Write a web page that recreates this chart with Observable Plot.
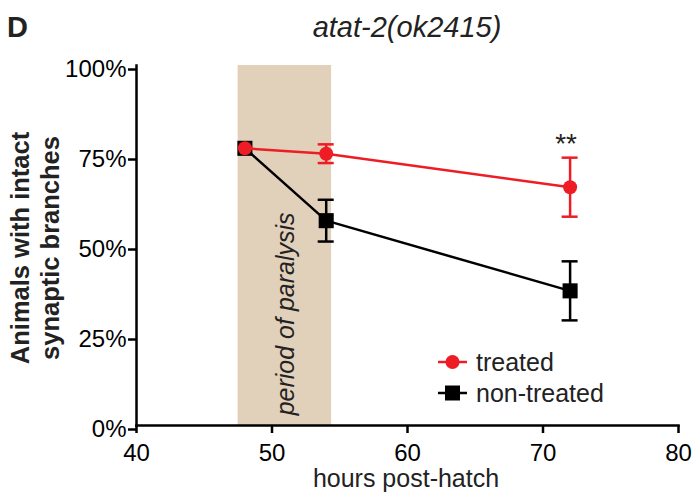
<!DOCTYPE html>
<html>
<head>
<meta charset="utf-8">
<script src="https://cdn.jsdelivr.net/npm/d3@7"></script>
<script src="https://cdn.jsdelivr.net/npm/@observablehq/plot@0.6"></script>
<style>
  html, body { margin: 0; padding: 0; background: #fff; }
  #wrap { position: relative; width: 694px; height: 499px; font-family: "Liberation Sans", Arial, Helvetica, sans-serif; }
  #overlay { position: absolute; left: 0; top: 0; pointer-events: none; }
</style>
</head>
<body>
<div id="wrap"></div>
<script>
// ---- data ----
const hours = [48, 54, 72];
const treatedMean = [0.77, 0.755, 0.662];
const treatedErr = [0, 0.026, 0.082];
const nonTreatedMean = [0.77, 0.569, 0.374];
const nonTreatedErr = [0, 0.058, 0.082];
const seriesNames = ["non-treated", "treated"];
const paralysisPeriod = [47.5, 54.4];
const xTicks = [40, 50, 60, 70, 80];
const yTicks = [0, 0.25, 0.5, 0.75, 1];
const significance = [{hour: 72, label: "**"}];

const RED = "#ee1d25";
const BLACK = "#000000";
const BAND = "#e1d0ba";
const FONT = "'Liberation Sans', Arial, Helvetica, sans-serif";

const rows = [];
hours.forEach((h, i) => {
  rows.push({series: "non-treated", hour: h, mean: nonTreatedMean[i], err: nonTreatedErr[i]});
  rows.push({series: "treated", hour: h, mean: treatedMean[i], err: treatedErr[i]});
});
const nt = rows.filter(d => d.series === "non-treated");
const tr = rows.filter(d => d.series === "treated");
const sig = significance.map(s => {
  const i = hours.indexOf(s.hour);
  return {...s, y: treatedMean[i] + treatedErr[i]};
});

const errMarks = (data, color) => [
  Plot.ruleX(data.filter(d => d.err > 0), {x: "hour", y1: d => d.mean - d.err, y2: d => d.mean + d.err, stroke: color, strokeWidth: 2.5}),
  Plot.ruleY(data.filter(d => d.err > 0), {x1: "hour", x2: "hour", y: d => d.mean - d.err, stroke: color, strokeWidth: 2.5, insetLeft: -8, insetRight: -8}),
  Plot.ruleY(data.filter(d => d.err > 0), {x1: "hour", x2: "hour", y: d => d.mean + d.err, stroke: color, strokeWidth: 2.5, insetLeft: -8, insetRight: -8})
];

const chart = Plot.plot({
  width: 694,
  height: 499,
  marginLeft: 136,
  marginRight: 16,
  marginTop: 65,
  marginBottom: 74,
  style: {fontFamily: FONT, color: "#000", background: "#fff"},
  x: {domain: [xTicks[0], xTicks[xTicks.length - 1]]},
  y: {domain: [yTicks[0], yTicks[yTicks.length - 1]]},
  marks: [
    Plot.rect([{start: paralysisPeriod[0], end: paralysisPeriod[1]}], {x1: "start", x2: "end", fill: BAND}),
    Plot.text([{mid: (paralysisPeriod[0] + paralysisPeriod[1]) / 2}], {
      x: "mid", y: () => 0.31, text: () => "period of paralysis", rotate: -90,
      fontSize: 25, fontStyle: "italic", fill: "#222", dx: 1
    }),
    Plot.axisX({ticks: xTicks, tickSize: 8, tickPadding: 10, fontSize: 24, strokeWidth: 2.5, label: null}),
    Plot.axisY({ticks: yTicks, tickSize: 8, tickPadding: 2, fontSize: 24, strokeWidth: 2.5, tickFormat: d3.format(".0%"), dy: 4, label: null}),
    Plot.frame({anchor: "left", strokeWidth: 2.5}),
    Plot.frame({anchor: "bottom", strokeWidth: 2.5}),
    ...errMarks(nt, BLACK),
    Plot.line(nt, {x: "hour", y: "mean", stroke: BLACK, strokeWidth: 2.5}),
    Plot.dot(nt, {x: "hour", y: "mean", symbol: "square", r: 8.5, fill: BLACK}),
    ...errMarks(tr, RED),
    Plot.line(tr, {x: "hour", y: "mean", stroke: RED, strokeWidth: 2.5}),
    Plot.dot(tr, {x: "hour", y: "mean", r: 7, fill: RED}),
    Plot.text(sig, {x: "hour", y: "y", text: "label", fontSize: 28, dx: -4, dy: -14, fill: "#222"})
  ]
});
const wrap = document.getElementById("wrap");
wrap.appendChild(chart);

// overlay: panel letter, title, axis titles, legend
const ns = "http://www.w3.org/2000/svg";
const ov = d3.select(wrap).append("svg").attr("id", "overlay").attr("width", 694).attr("height", 499)
  .attr("xmlns", ns).style("font-family", FONT);
ov.append("text").attr("x", 7).attr("y", 37).attr("font-size", 29).attr("font-weight", "bold").attr("fill", "#222").text("D");
ov.append("text").attr("x", 407).attr("y", 37).attr("text-anchor", "middle").attr("font-size", 29).attr("font-style", "italic").attr("fill", "#222").text("atat-2(ok2415)");
ov.append("text").attr("x", 406).attr("y", 487).attr("text-anchor", "middle").attr("font-size", 25).attr("fill", "#222").text("hours post-hatch");
const ylab = ["Animals with intact", "synaptic branches"];
ylab.forEach((t, i) => {
  ov.append("text").attr("transform", `translate(${29 + i * 30},248) rotate(-90)`).attr("text-anchor", "middle")
    .attr("font-size", 25.5).attr("font-weight", "bold").attr("fill", "#222").text(t);
});
// legend
const legendItems = [
  {name: seriesNames[1], color: RED, shape: "circle"},
  {name: seriesNames[0], color: BLACK, shape: "square"}
];
legendItems.forEach((it, i) => {
  const cy = 362 + i * 31;
  const g = ov.append("g");
  g.append("line").attr("x1", 438).attr("x2", 467).attr("y1", cy).attr("y2", cy).attr("stroke", it.color).attr("stroke-width", 2.5);
  if (it.shape === "circle") g.append("circle").attr("cx", 452.5).attr("cy", cy).attr("r", 7).attr("fill", it.color);
  else g.append("rect").attr("x", 445).attr("y", cy - 7.5).attr("width", 15).attr("height", 15).attr("fill", it.color);
  g.append("text").attr("x", 476).attr("y", cy + 8.5).attr("font-size", 25).attr("fill", "#222").text(it.name);
});
</script>
</body>
</html>
